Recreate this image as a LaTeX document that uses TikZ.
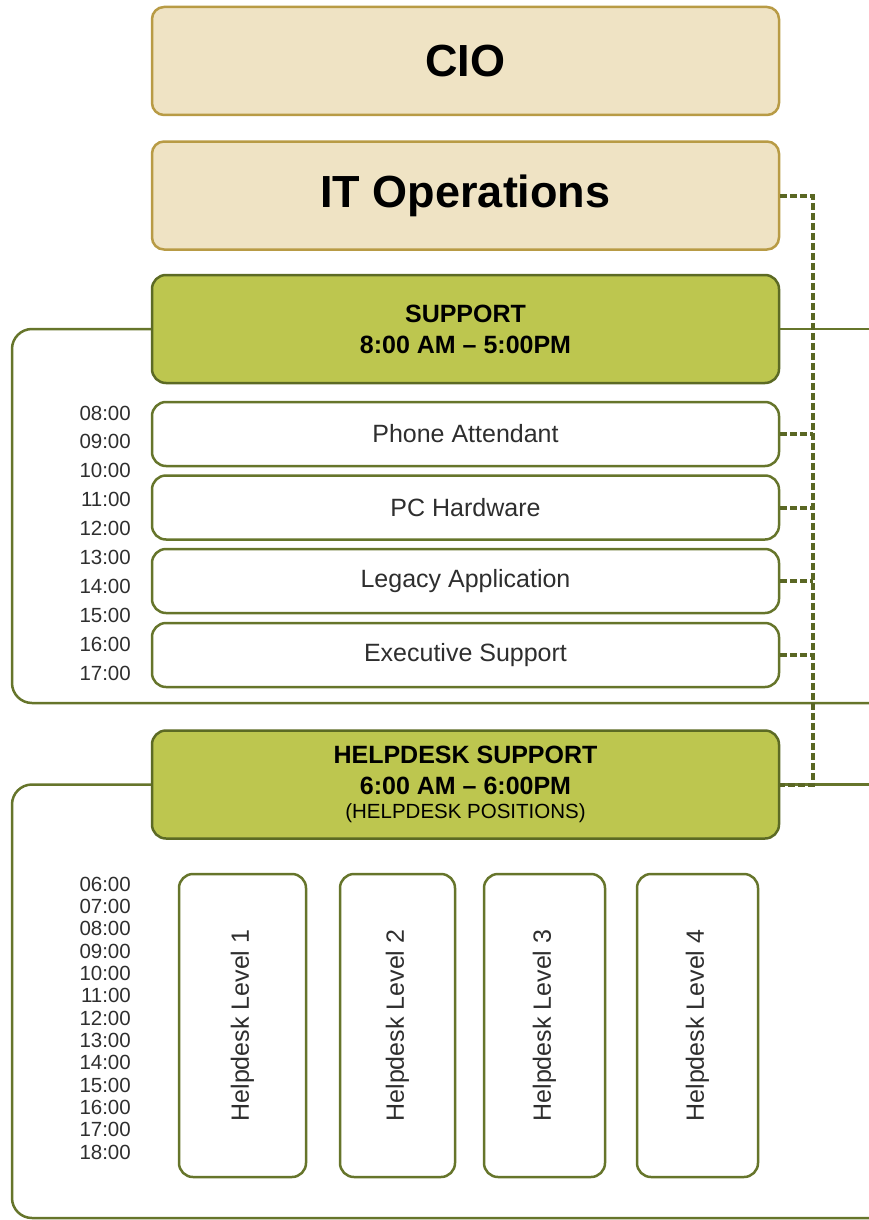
\documentclass[tikz,border=0pt]{standalone}
\usepackage{fontspec}
\setmainfont{Liberation Sans}
\definecolor{beigefill}{HTML}{EFE3C4}
\definecolor{beigeline}{HTML}{B89B45}
\definecolor{greenfill}{HTML}{BDC64F}
\definecolor{greenline}{HTML}{5C6A24}
\definecolor{frameline}{HTML}{66752B}
\definecolor{busline}{HTML}{5A6724}
\definecolor{darktext}{HTML}{2E2E2E}
\begin{document}
\begin{tikzpicture}[x=1pt,y=-1pt,
  topbox/.style={draw=beigeline, fill=beigefill, line width=2.5pt, rounded corners=12pt,
    minimum width=627pt, minimum height=108pt, inner sep=0pt,
    font=\fontsize{45}{50}\selectfont\bfseries},
  grnbox/.style={draw=greenline, fill=greenfill, line width=2.5pt, rounded corners=14pt,
    minimum width=627pt, minimum height=108pt, inner sep=0pt, align=center,
    font=\fontsize{25}{31}\selectfont\bfseries},
  rolebox/.style={draw=frameline, fill=white, line width=2.5pt, rounded corners=14pt,
    minimum width=627pt, minimum height=64pt, inner sep=0pt, text=darktext,
    font=\fontsize{25}{28}\selectfont},
  lvlbox/.style={draw=frameline, fill=white, line width=2.5pt, rounded corners=14pt,
    rotate=90, minimum width=303pt, inner sep=0pt, text=darktext,
    font=\fontsize{25}{28}\selectfont},
  timelbl/.style={anchor=east, inner sep=0pt, text=darktext, font=\fontsize{20.5}{22}\selectfont},
  frm/.style={draw=frameline, line width=2.5pt, rounded corners=20pt},
  busdash/.style={draw=busline, line width=4pt, dash pattern=on 7pt off 3pt}
]
\useasboundingbox (0,0) rectangle (869,1220);
\coordinate (busx) at (813,0);
\coordinate (rightx) at (869,0);

% boxes
\node[topbox] (cio) at (465.5,61) {CIO};
\node[topbox] (itops) at (465.5,195.5) {IT Operations};
\node[grnbox] (sup) at (465.5,329) {SUPPORT\\8:00 AM -- 5:00PM};
\node[rolebox] (phone) at (465.5,434) {Phone Attendant};
\node[rolebox] (pchw) at (465.5,507.5) {PC Hardware};
\node[rolebox] (legacy) at (465.5,581) {Legacy Application};
\node[rolebox] (exec) at (465.5,655) {Executive Support};
\node[grnbox] (hd) at (465.5,784.5) {HELPDESK SUPPORT\\6:00 AM -- 6:00PM\\[-7pt]{\fontsize{20.5}{24}\selectfont\mdseries (HELPDESK POSITIONS)}};

\node[lvlbox, minimum height=127pt] (l1) at (242.5,1025.5) {Helpdesk Level 1};
\node[lvlbox, minimum height=115pt] (l2) at (397.5,1025.5) {Helpdesk Level 2};
\node[lvlbox, minimum height=121pt] (l3) at (544.5,1025.5) {Helpdesk Level 3};
\node[lvlbox, minimum height=121pt] (l4) at (697.5,1025.5) {Helpdesk Level 4};

% frames
\coordinate (supbot) at (12,703);
\coordinate (hdbot) at (12,1218);
\draw[frm] (sup.west) -| (supbot) -- (supbot -| rightx);
\draw[frm] (sup.east) -- (sup.east -| rightx);
\draw[frm] (hd.west) -| (hdbot) -- (hdbot -| rightx);
\draw[frm] (hd.east) -- (hd.east -| rightx);

% dashed bus
\draw[busdash] (itops.east) -- (itops.east -| busx) -- (hd.east -| busx) -- (hd.east);
\foreach \n in {phone,pchw,legacy,exec}{
  \draw[busdash] (\n.east) -- (\n.east -| busx);
}

% time labels
\foreach \t [count=\i from 0] in {08:00,09:00,10:00,11:00,12:00,13:00,14:00,15:00,16:00,17:00}{
  \node[timelbl] (st\i) at (131,413+28.9*\i) {\t};
}
\foreach \t [count=\i from 0] in {06:00,07:00,08:00,09:00,10:00,11:00,12:00,13:00,14:00,15:00,16:00,17:00,18:00}{
  \node[timelbl] (ht\i) at (131,884+22.33*\i) {\t};
}
\end{tikzpicture}
\end{document}
